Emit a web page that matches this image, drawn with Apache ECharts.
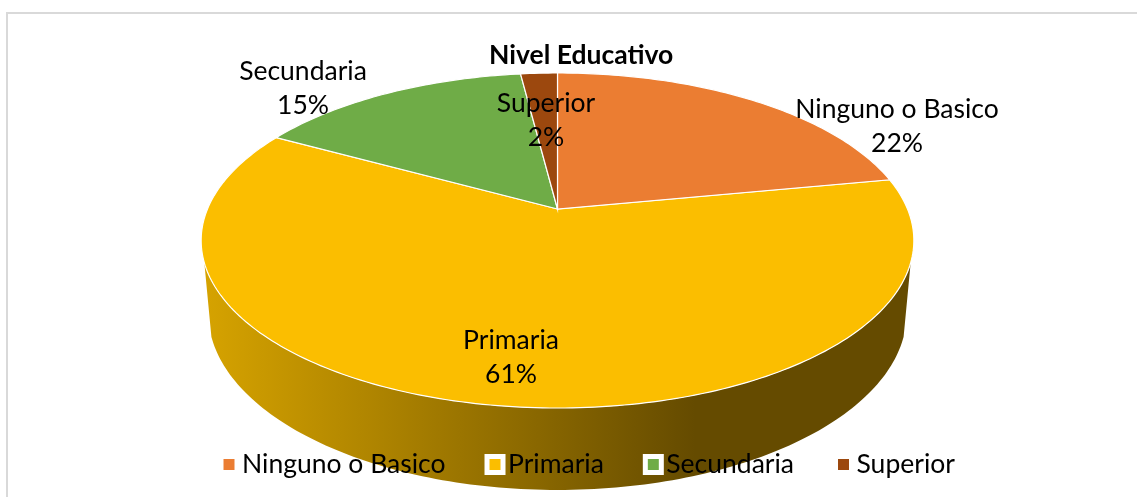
<!DOCTYPE html>
<html>
<head>
<meta charset="utf-8">
<style>html,body{margin:0;padding:0;background:#fff}#chart{width:1144px;height:497px}</style>
<script src="https://cdn.jsdelivr.net/npm/echarts@6/dist/echarts.min.js"></script>
</head>
<body>
<div id="chart"></div>
<script>
const categories = ['Ninguno o Basico', 'Primaria', 'Secundaria', 'Superior'];
const seriesValues = [22, 61, 15, 2];
const sliceColors = ['#EB7D32', '#FBBE00', '#6FAC47', '#9C480E'];

// label centres, one per category
const labelCentres = [[897, 126], [511, 357], [303, 88], [546, 120]];

// Excel style 3d pie: a circle seen in perspective, the centre is not the ellipse centre
const cx = 557.5;
const topFace = { x: 350, y: 161.6, k: 0.188, y0: 209 };
const bottomFace = { x: 343, y: 170.5, k: 0.188, y0: 280 };
const wallFrom = 108.3, wallTo = 251.7; // degrees where the side wall shows

function project(face, deg) {
  const a = deg * Math.PI / 180;
  const w = 1 + face.k * Math.cos(a);
  return [cx + face.x * Math.sin(a) / w, face.y0 - face.y * Math.cos(a) / w];
}

function arc(face, from, to) {
  const pts = [];
  const n = Math.max(2, Math.ceil(Math.abs(to - from)));
  for (let i = 0; i <= n; i++) pts.push(project(face, from + (to - from) * i / n));
  return pts;
}

const wallGradient = new echarts.graphic.LinearGradient(203, 0, 695, 0, [
  { offset: 0, color: '#D6A300' },
  { offset: 1, color: '#654B00' }
], true);

const total = seriesValues.reduce((a, b) => a + b, 0);

function sliceRender(index) {
  let start = 0;
  for (let i = 0; i < index; i++) start += seriesValues[i];
  const from = start / total * 360;
  const to = (start + seriesValues[index]) / total * 360;
  const children = [];

  const wa = Math.max(from, wallFrom), wb = Math.min(to, wallTo);
  if (wb > wa) {
    children.push({
      type: 'polygon',
      shape: { points: arc(topFace, wa, wb).concat(arc(bottomFace, wb, wa)) },
      style: { fill: wallGradient },
      z2: 1
    });
  }
  children.push({
    type: 'polygon',
    shape: { points: [[cx, topFace.y0]].concat(arc(topFace, from, to)) },
    style: { fill: sliceColors[index], stroke: '#fff', lineWidth: 1.2 },
    z2: 2
  });
  return children;
}

function labelRender(index) {
  return {
    type: 'text',
    x: labelCentres[index][0],
    y: labelCentres[index][1],
    z2: 10,
    style: {
      text: categories[index] + '\n' + Math.round(seriesValues[index] / total * 100) + '%',
      fill: '#000',
      font: '26.5px Lato',
      lineHeight: 34,
      align: 'center',
      verticalAlign: 'middle'
    }
  };
}

const series = categories.map((name, i) => ({
  type: 'custom',
  name: name,
  coordinateSystem: 'none',
  silent: true,
  animation: false,
  itemStyle: { color: sliceColors[i] },
  data: [seriesValues[i]],
  z: i === 1 ? 2 : 3,
  renderItem: () => ({ type: 'group', children: sliceRender(i).concat(labelRender(i)) })
}));

const myChart = echarts.init(document.getElementById('chart'), null, { renderer: 'canvas' });
myChart.setOption({
  animation: false,
  backgroundColor: '#fff',
  title: {
    text: 'Nivel Educativo',
    left: 489,
    top: 42,
    padding: 0,
    textStyle: { fontFamily: 'Lato', fontWeight: 'bold', fontSize: 26.5, color: '#000' }
  },
  legend: {
    data: categories,
    left: 218.5,
    top: 451,
    padding: 0,
    icon: 'rect',
    itemWidth: 16,
    itemHeight: 16,
    itemGap: 39,
    itemStyle: { borderColor: '#fff', borderWidth: 5 },
    textStyle: { fontFamily: 'Lato', fontSize: 26.5, color: '#000' }
  },
  graphic: [{
    type: 'polyline',
    silent: true,
    shape: { points: [[7, 497], [7, 13], [1137, 13]] },
    style: { stroke: '#d9d9d9', fill: null, lineWidth: 2 }
  }],
  series: series
});
</script>
</body>
</html>
